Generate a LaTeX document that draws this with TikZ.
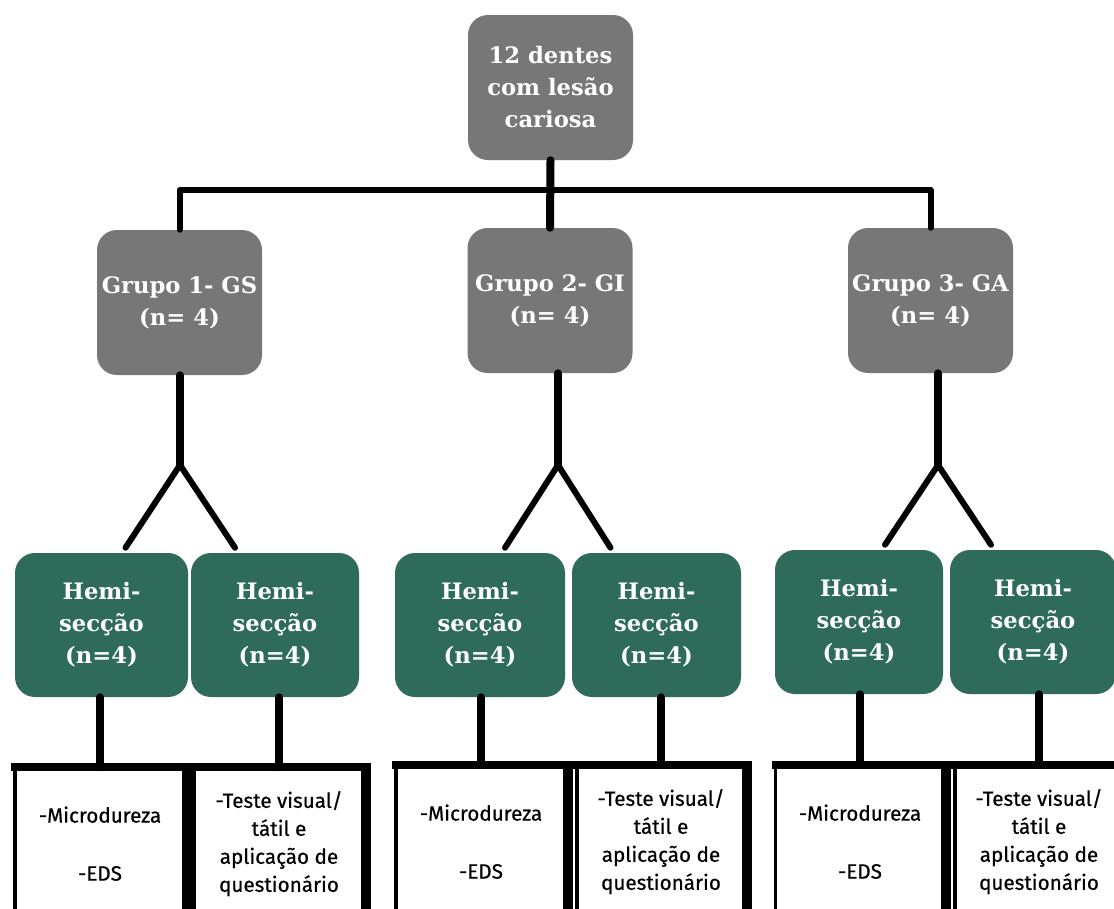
\documentclass[tikz,border=0pt]{standalone}
\usepackage{fontspec}
\newfontfamily\slab{DejaVu Serif}
\newfontfamily\dinlike{Fira Sans}[FakeBold=0.5]
\usetikzlibrary{calc}
\definecolor{boxgray}{HTML}{777777}
\definecolor{boxgreen}{HTML}{2E6B5A}
\def\px{0.75pt}
\tikzset{
  gbox/.style={fill=boxgray, rounded corners=15pt, minimum width=165*\px, minimum height=145*\px,
    text=white, align=center, font=\slab\bfseries\fontsize{17}{24}\selectfont, inner sep=0pt},
  hbox/.style={fill=boxgreen, rounded corners=15pt, minimum height=144*\px,
    text=white, align=center, font=\slab\bfseries\fontsize{17}{24}\selectfont, inner sep=0pt},
  tbox/.style={draw=black, line width=2.5pt, fill=white, anchor=north, minimum height=150*\px,
    align=center, font=\dinlike\fontsize{15.5}{21}\selectfont, inner sep=0pt},
  link/.style={line width=6pt, line cap=round, line join=round},
  hlink/.style={line width=4.5pt, line cap=round, line join=round},
  edge/.style={line width=6pt, line cap=butt}
}
\begin{document}
\begin{tikzpicture}[x=0.75pt,y=-0.75pt]
\useasboundingbox[fill=white] (0,0) rectangle (1114,908);

% top
\node[gbox] (top) at (550.5,87.5) {12 dentes\\com lesão\\cariosa};
% groups
\node[gbox] (g1) at (179.5,302.5) {Grupo 1- GS\\(n= 4)};
\node[gbox] (g2) at (550,300.5) {Grupo 2- GI\\(n= 4)};
\node[gbox] (g3) at (930.5,300.5) {Grupo 3- GA\\(n= 4)};

% hemi
\node[hbox, minimum width=173*\px] (h1) at (101.5,625) {Hemi-\\secção\\(n=4)};
\node[hbox, minimum width=168*\px] (h2) at (275,625) {Hemi-\\secção\\(n=4)};
\node[hbox, minimum width=170*\px] (h3) at (480,625) {Hemi-\\secção\\(n=4)};
\node[hbox, minimum width=169*\px] (h4) at (656.5,625) {Hemi-\\secção\\(n=4)};
\node[hbox, minimum width=168*\px] (h5) at (859,622) {Hemi-\\secção\\(n=4)};
\node[hbox, minimum width=166*\px] (h6) at (1033,622) {Hemi-\\secção\\(n=4)};

% tests
\node[tbox, minimum width=170*\px] (b1) at (100,767) {-Microdureza\\[30*\px]-EDS};
\node[tbox, minimum width=170*\px] (b2) at (279,767) {-Teste visual/\\tátil e\\aplicação de\\questionário};
\node[tbox, minimum width=170*\px] (b3) at (481,765) {-Microdureza\\[30*\px]-EDS};
\node[tbox, minimum width=168*\px] (b4) at (661,765) {-Teste visual/\\tátil e\\aplicação de\\questionário};
\node[tbox, minimum width=169*\px] (b5) at (860,765) {-Microdureza\\[30*\px]-EDS};
\node[tbox, minimum width=168*\px] (b6) at (1039,765) {-Teste visual/\\tátil e\\aplicação de\\questionário};

\foreach \b in {b1,b2,b3,b4,b5,b6}{
  \draw[edge] ($(\b.north west)+(-2,0)$) -- (\b.north east);
  \draw[line width=7.5pt] ($(\b.north east)+(0,-4)$) -- (\b.south east);
}

% top connectors
\coordinate (bar) at (550,190);
\draw[link] (top.south) -- (g2.north);
\draw[hlink] (g1.north) -- (g1.north |- bar) -- (g3.north |- bar) -- (g3.north);

% forks
\coordinate (f1) at (180,465);
\coordinate (f2) at (558,465);
\coordinate (f3) at (938,465);
\draw[link] (g1.south -| f1) -- (f1);
\draw[link] (g2.south -| f2) -- (f2);
\draw[link] (g3.south -| f3) -- (f3);
\draw[hlink] ($(h1.north)+(24,-5)$) -- (f1) -- ($(h2.north)+(-40,-5)$);
\draw[hlink] ($(h3.north)+(25,-5)$) -- (f2) -- ($(h4.north)+(-46,-5)$);
\draw[hlink] ($(h5.north)+(26,-5)$) -- (f3) -- ($(h6.north)+(-42,-5)$);

% hemi to tests
\foreach \h/\b in {h1/b1,h2/b2,h3/b3,h4/b4,h5/b5,h6/b6}{
  \draw[link] (\b.north) -- (\b.north |- \h.south);
}
\end{tikzpicture}
\end{document}
